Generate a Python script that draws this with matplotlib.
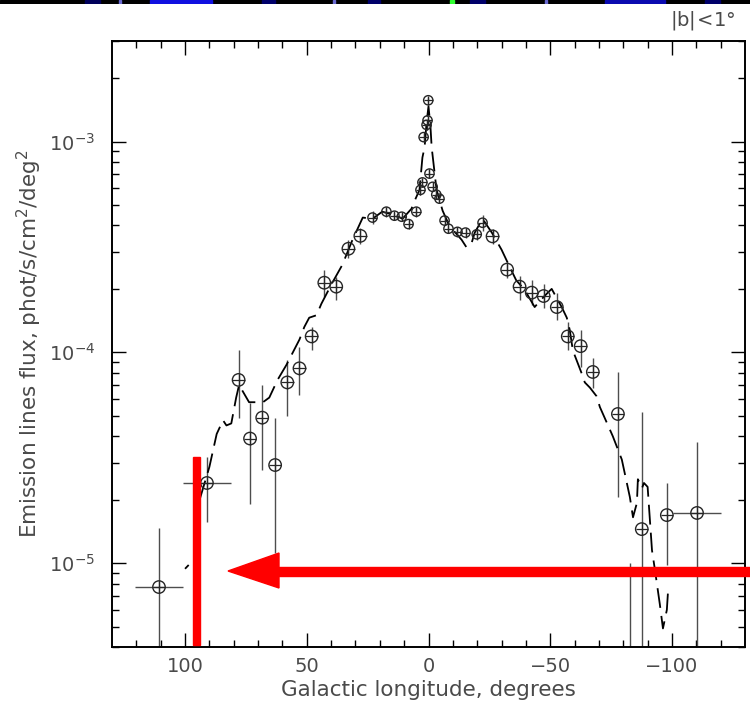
import numpy as np
import matplotlib
matplotlib.use("Agg")
import matplotlib.pyplot as plt
from matplotlib.patches import Polygon, Rectangle

# ---------------- data ----------------
lon = [110.7, 91.0, 78.0, 73.3, 68.3, 63.0, 58.0, 53.0, 48.0, 42.8, 37.9, 32.9, 28.0, 23.0,
       17.3, 14.0, 11.0, 8.2, 5.0, 3.3, 2.5, 2.0, 0.8, 0.4, 0.1,
       -0.4, -1.7, -3.2, -4.5, -6.6, -8.2, -11.9, -15.2, -19.8, -22.2, -26.3,
       -32.3, -37.4, -42.4, -47.3, -52.7, -57.2, -62.5, -67.5, -77.8, -82.7, -87.6, -97.9, -110.3]
flux = [7.7e-6, 2.4e-5, 7.4e-5, 3.9e-5, 4.9e-5, 2.92e-5, 7.2e-5, 8.4e-5, 1.19e-4, 2.14e-4, 2.05e-4, 3.1e-4, 3.57e-4, 4.36e-4,
        4.65e-4, 4.45e-4, 4.4e-4, 4.06e-4, 4.65e-4, 5.9e-4, 6.4e-4, 1.05e-3, 1.2e-3, 1.26e-3, 1.57e-3,
        7.05e-4, 6.1e-4, 5.6e-4, 5.36e-4, 4.22e-4, 3.86e-4, 3.73e-4, 3.7e-4, 3.63e-4, 4.12e-4, 3.55e-4,
        2.47e-4, 2.05e-4, 1.92e-4, 1.85e-4, 1.64e-4, 1.19e-4, 1.07e-4, 8.07e-5, 5.1e-5, 2.0e-6, 1.45e-5, 1.69e-5, 1.73e-5]
flux_hi = [1.47e-5, 3.2e-5, 1.03e-4, 5.75e-5, 7.0e-5, 4.9e-5, 9.2e-5, 1.06e-4, 1.32e-4, 2.47e-4, 2.28e-4, 3.4e-4, 3.9e-4, 4.7e-4,
           4.9e-4, 4.65e-4, 4.6e-4, 4.25e-4, 4.9e-4, 6.2e-4, 6.7e-4, 1.1e-3, 1.26e-3, 1.32e-3, 1.63e-3,
           7.4e-4, 6.4e-4, 5.85e-4, 5.6e-4, 4.42e-4, 4.05e-4, 3.92e-4, 3.9e-4, 3.83e-4, 4.5e-4, 3.85e-4,
           2.72e-4, 2.3e-4, 2.2e-4, 2.12e-4, 1.92e-4, 1.39e-4, 1.28e-4, 9.4e-5, 8.07e-5, 1.0e-5, 5.2e-5, 2.4e-5, 3.76e-5]
flux_lo = [2.0e-6, 1.57e-5, 4.9e-5, 1.9e-5, 2.77e-5, 1.12e-5, 5.0e-5, 6.3e-5, 1.03e-4, 1.84e-4, 1.78e-4, 2.8e-4, 3.25e-4, 4.05e-4,
           4.4e-4, 4.25e-4, 4.2e-4, 3.87e-4, 4.4e-4, 5.6e-4, 6.1e-4, 1.0e-3, 1.14e-3, 1.2e-3, 1.51e-3,
           6.7e-4, 5.8e-4, 5.35e-4, 5.1e-4, 4.02e-4, 3.67e-4, 3.54e-4, 3.5e-4, 3.43e-4, 3.75e-4, 3.25e-4,
           2.25e-4, 1.78e-4, 1.68e-4, 1.62e-4, 1.42e-4, 1.03e-4, 8.5e-5, 6.8e-5, 2.06e-5, 1.0e-7, 1.0e-7, 9.8e-6, 1.0e-7]
lon_err = [10, 10, 0, 0, 0, 0, 0, 0, 0, 0, 0, 0, 0, 0,
           0, 0, 0, 0, 0, 0, 0, 0, 0, 0, 0,
           0, 0, 0, 0, 0, 0, 0, 0, 0, 0, 0,
           0, 0, 0, 0, 0, 0, 0, 0, 0, 0, 0, 0, 10]

model_lon = [100, 98.5, np.nan, 94, 90, 87, 84.4, 83, 81, 79, 77.8, 73.7, 71, 68, 65.4, 62, 58.4,
             53, 51, 49, 46, 44, 39.5, 35.4, 31.3, 27, 23, 19, 13, 10.7, 7, 5.8, 3.7, 2.5, 1.6, 0.8, 0,
             -0.8, -1.3, -3.3, -5.8, -8.6, -13.6, -15.6, -17.7, -19, -22.2, -26, -30, -33.3, -36, -39.5,
             -43.6, -45.7, -49, -50.6, -54.7, -56.8, -58, -59.3, -63, -64.2, -66.3, -69, -70.4, -75.7,
             -79.4, -82.7, -84, -85.6, -86, -87.7, -88.5, -90, -91.8, -93, -95, -96.3, -97.9, -98.4]
model_flux = [9.4e-6, 9.8e-6, np.nan, 2.0e-5, 2.86e-5, 4.1e-5, 4.76e-5, 4.5e-5, 4.6e-5, 6.1e-5, 7.0e-5, 5.8e-5, 5.8e-5,
              5.8e-5, 6.1e-5, 7.4e-5, 8.7e-5,
              1.15e-4, 1.32e-4, 1.46e-4, 1.5e-4, 1.7e-4, 2.14e-4, 2.6e-4, 3.4e-4, 4.36e-4, 4.3e-4, 4.65e-4, 4.44e-4,
              4.3e-4, 4.8e-4, 5.2e-4, 5.9e-4, 8.4e-4, 9.4e-4, 1.23e-3, 1.47e-3,
              1.18e-3, 9.4e-4, 5.9e-4, 4.7e-4, 3.98e-4, 3.42e-4, 3.15e-4, 3.3e-4, 3.7e-4, 4.3e-4, 3.7e-4, 3.07e-4,
              2.55e-4, 2.2e-4, 1.98e-4,
              1.64e-4, 1.75e-4, 1.92e-4, 2.0e-4, 1.64e-4, 1.46e-4, 1.28e-4, 1.02e-4, 7.9e-5, 7.2e-5, 6.8e-5,
              6.2e-5, 5.5e-5, 4.0e-5,
              3.1e-5, 2.06e-5, 1.65e-5, 1.93e-5, 2.5e-5, 2.27e-5, 2.4e-5, 2.3e-5, 1.15e-5, 9.3e-6, 6.4e-6, 4.9e-6,
              6.0e-6, 7.4e-6]

x_ticks = [100, 50, 0, -50, -100]
y_ticks = [1e-5, 1e-4, 1e-3]
y_ticklabels = [r"$10^{-5}$", r"$10^{-4}$", r"$10^{-3}$"]

# ---------------- figure ----------------
plt.rcParams['font.family'] = ['DejaVu Sans']
plt.rcParams['mathtext.default'] = 'regular'
txt_col = '#4a4a4a'

W, H = 750, 709
fig = plt.figure(figsize=(W / 100, H / 100), dpi=100)
ax = fig.add_axes([112 / W, 1 - 647 / H, (745 - 112) / W, (647 - 41) / H])

ax.set_yscale('log')
ax.set_xlim(130, -130)
ax.set_ylim(4e-6, 3e-3)

lon_a = np.array(lon)
flux_a = np.array(flux)
yerr = [flux_a - np.array(flux_lo), np.array(flux_hi) - flux_a]
ax.errorbar(lon_a, flux_a, yerr=yerr, xerr=lon_err, fmt='none', ecolor='0.3',
            elinewidth=1.0, capsize=0, zorder=2)

ax.plot(model_lon, model_flux, color='black', lw=1.3, ls=(0, (11, 4.5)), zorder=3)

sizes = np.where(np.abs(lon_a) < 25, 45, 80)
ax.scatter(lon_a, flux_a, s=sizes, marker='o', facecolors='none', edgecolors='0.15',
           linewidths=1.0, zorder=4)
ax.scatter(lon_a, flux_a, s=sizes, marker='+', color='0.15', linewidths=0.9, zorder=4)

ax.set_xticks(x_ticks)
ax.set_xticks(np.arange(-120, 130, 10), minor=True)
ax.set_yticks(y_ticks)
ax.set_yticklabels(y_ticklabels)
ax.tick_params(which='both', direction='in', top=True, right=True, colors='black',
               labelcolor=txt_col, labelsize=14, width=1.0)
ax.tick_params(which='major', length=10)
ax.tick_params(which='minor', length=5)
ax.tick_params(axis='x', pad=7)
ax.tick_params(axis='y', pad=12)
for s in ax.spines.values():
    s.set_linewidth(1.4)

ax.set_xlabel('Galactic longitude, degrees', color=txt_col, fontsize=15.5, labelpad=3)
ax.set_ylabel('Emission lines flux, phot/s/cm$^2$/deg$^2$', color=txt_col, fontsize=15.5, labelpad=4)

fig.text(735 / W, 1 - 20 / H, r'$|b|\!<\!1\degree$', ha='right', va='center',
         color=txt_col, fontsize=14)

# top black strip (cropped image remnant)
strip = fig.add_axes([0, 1 - 4 / H, 1, 4 / H])
strip.set_facecolor('black')
strip.set_xlim(0, W)
strip.set_ylim(0, 1)
strip.axis('off')
strip.add_patch(Rectangle((0, 0), W, 1, color='black'))
for x0, x1, c in [(85, 100, '#00005a'), (150, 212, '#1010e0'), (262, 275, '#00006a'),
                  (368, 380, '#00006a'), (470, 485, '#00006a'), (605, 665, '#0a0ab0'),
                  (705, 720, '#00006a')]:
    strip.add_patch(Rectangle((x0, 0), x1 - x0, 1, color=c))
for x0 in (119, 333, 545):
    strip.add_patch(Rectangle((x0, 0), 1.5, 1, color='#6a6ad0'))
strip.add_patch(Rectangle((450, 0), 4, 1, color='#30ff30'))

# red annotations (pixel coords -> figure fraction)
def fx(x):
    return x / W

def fy(y):
    return 1 - y / H

fig.patches.append(Rectangle((fx(193), fy(645)), 7 / W, (645 - 457) / H, color='#ff0000',
                             transform=fig.transFigure, zorder=10))
fig.patches.append(Rectangle((fx(276), fy(575.5)), (W - 276) / W, 9 / H, color='#ff0000',
                             transform=fig.transFigure, zorder=10))
fig.patches.append(Polygon([(fx(228), fy(571)), (fx(279), fy(553)), (fx(279), fy(588))],
                           closed=True, color='#ff0000', transform=fig.transFigure, zorder=10))

fig.savefig('out.png', dpi=100)
